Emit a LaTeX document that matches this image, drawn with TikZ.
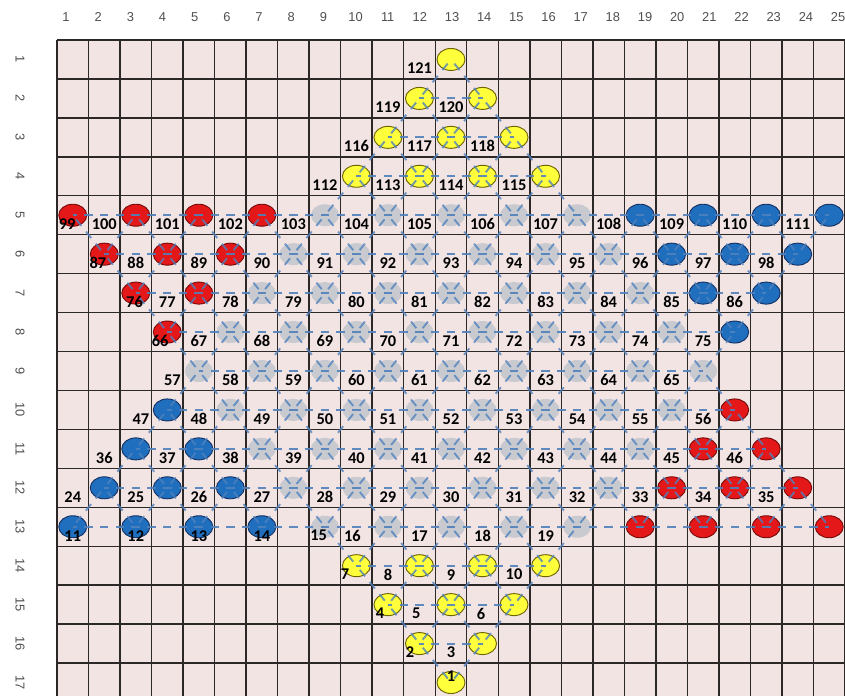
\documentclass[tikz,border=0pt]{standalone}
\usepackage{fontspec}
\setmainfont{Carlito}
\setsansfont{Liberation Sans}
\usepackage{tikz}
\usetikzlibrary{shapes.geometric}
\definecolor{cellpink}{RGB}{243,228,228}
\definecolor{gridline}{RGB}{45,40,40}
\definecolor{linkblue}{RGB}{79,129,189}
\definecolor{redfill}{RGB}{228,24,24}
\definecolor{redline}{RGB}{120,10,10}
\definecolor{bluefill}{RGB}{32,110,190}
\definecolor{blueline}{RGB}{20,50,100}
\definecolor{yellowfill}{RGB}{255,255,60}
\definecolor{yellowline}{RGB}{110,100,0}
\definecolor{grayfill}{RGB}{200,202,208}
\definecolor{axisgray}{RGB}{80,80,80}

\begin{document}
\begin{tikzpicture}[x=0.9456cm, y=-1.1682cm,
  token/.style={ellipse, minimum width=0.84cm, minimum height=0.66cm, inner sep=0pt, line width=0.8pt},
  redtok/.style={token, draw=redline, fill=redfill},
  bluetok/.style={token, draw=blueline, fill=bluefill},
  yellowtok/.style={token, draw=yellowline, fill=yellowfill},
  graytok/.style={token, fill=grayfill},
  hlink/.style={draw=linkblue, line width=1.7pt, opacity=0.9, dash pattern=on 0.25cm off 0.22cm, dash phase=0.12cm},
  dlink/.style={draw=linkblue, line width=1.6pt, opacity=0.8, dash pattern=on 0.25cm off 0.22cm, dash phase=0.31cm},
  num/.style={font=\bfseries\fontsize{14}{14}\selectfont, inner sep=0pt},
  axis/.style={font=\sffamily\fontsize{11}{11}\selectfont, text=axisgray, inner sep=0pt}
]
\useasboundingbox (-1.808,-1.027) rectangle (25,16.846);
\clip (-1.808,-1.027) rectangle (25,16.846);
\fill[white] (-1.808,-1.027) rectangle (25,16.846);

% board
\fill[cellpink] (0,0) rectangle (25,17);
\foreach \i in {0,...,25} \draw[gridline, line width=1.2pt] (\i,0) -- (\i,17);
\foreach \j in {0,...,17} \draw[gridline, line width=1.2pt] (0,\j) -- (25,\j);

% axis numbers
\foreach \col in {1,...,25}
  \node[axis] (h\col) at ({0.286+(\col-1)*1.0206},-0.59) {\col};
\foreach \row in {1,...,17}
  \node[axis, rotate=-90] (v\row) at (-1.17,\row-0.5) {\row};

% tokens
\foreach \row/\first/\last in {1/13/13,2/12/14,3/11/15,4/10/16,5/1/25,6/2/24,7/3/23,8/4/22,9/5/21,
    10/4/22,11/3/23,12/2/24,13/1/25,14/10/16,15/11/15,16/12/14,17/13/13}{
  \pgfmathtruncatemacro\nn{(\last-\first)/2}
  \pgfmathtruncatemacro\dd{abs(\row-9)}
  \foreach \kk in {0,...,\nn}{
    \pgfmathtruncatemacro\col{\first+2*\kk}
    \def\sty{graytok}
    \ifnum\row<5 \def\sty{yellowtok}\fi
    \ifnum\row>13 \def\sty{yellowtok}\fi
    \ifnum\row>4 \ifnum\row<14
      \ifnum\col<\numexpr\first+2*\dd\relax
        \ifnum\row<9 \def\sty{redtok}\else\def\sty{bluetok}\fi
      \fi
      \ifnum\col>\numexpr\last-2*\dd\relax
        \ifnum\row<9 \def\sty{bluetok}\else\def\sty{redtok}\fi
      \fi
    \fi\fi
    \node[\sty] (t-\row-\col) at (\col-0.5,\row-0.5) {};
  }
}

% links in a row
\foreach \row/\first/\last in {2/12/14,3/11/15,4/10/16,5/1/25,6/2/24,7/3/23,8/4/22,9/5/21,
    10/4/22,11/3/23,12/2/24,13/1/25,14/10/16,15/11/15,16/12/14}{
  \pgfmathtruncatemacro\nn{(\last-\first)/2}
  \foreach \kk in {1,...,\nn}{
    \pgfmathtruncatemacro\col{\first+2*\kk-2}
    \pgfmathtruncatemacro\nxt{\first+2*\kk}
    \draw[hlink] (t-\row-\col.center) -- (t-\row-\nxt.center);
  }
}

% links to the row below
\foreach \row/\first/\last/\nfirst/\nlast in {1/13/13/12/14,2/12/14/11/15,3/11/15/10/16,4/10/16/1/25,
    5/1/25/2/24,6/2/24/3/23,7/3/23/4/22,8/4/22/5/21,9/5/21/4/22,10/4/22/3/23,11/3/23/2/24,
    12/2/24/1/25,13/1/25/10/16,14/10/16/11/15,15/11/15/12/14,16/12/14/13/13}{
  \pgfmathtruncatemacro\nn{(\last-\first)/2}
  \pgfmathtruncatemacro\below{\row+1}
  \foreach \kk in {0,...,\nn}{
    \pgfmathtruncatemacro\col{\first+2*\kk}
    \pgfmathtruncatemacro\cleft{\col-1}
    \pgfmathtruncatemacro\cright{\col+1}
    \ifnum\cleft<\nfirst\else\ifnum\cleft>\nlast\else
      \draw[dlink] (t-\row-\col.center) -- (t-\below-\cleft.center);\fi\fi
    \ifnum\cright<\nfirst\else\ifnum\cright>\nlast\else
      \draw[dlink] (t-\row-\col.center) -- (t-\below-\cright.center);\fi\fi
  }
}

% numbers
\foreach \txt/\col/\row in {121/12/1, 119/11/2, 120/13/2, 116/10/3, 117/12/3, 118/14/3,
    112/9/4, 113/11/4, 114/13/4, 115/15/4,
    99/0.82/5, 100/2/5, 101/4/5, 102/6/5, 103/8/5, 104/10/5, 105/12/5, 106/14/5, 107/16/5,
    108/18/5, 109/20/5, 110/22/5, 111/24/5,
    87/1.8/6, 88/3/6, 89/5/6, 90/7/6, 91/9/6, 92/11/6, 93/13/6, 94/15/6, 95/17/6, 96/19/6, 97/21/6, 98/23/6,
    76/2.96/7, 77/4/7, 78/6/7, 79/8/7, 80/10/7, 81/12/7, 82/14/7, 83/16/7, 84/18/7, 85/20/7, 86/22/7,
    66/3.77/8, 67/5/8, 68/7/8, 69/9/8, 70/11/8, 71/13/8, 72/15/8, 73/17/8, 74/19/8, 75/21/8,
    57/4.16/9, 58/6/9, 59/8/9, 60/10/9, 61/12/9, 62/14/9, 63/16/9, 64/18/9, 65/20/9,
    47/3.16/10, 48/5/10, 49/7/10, 50/9/10, 51/11/10, 52/13/10, 53/15/10, 54/17/10, 55/19/10, 56/21/10,
    36/2/11, 37/4/11, 38/6/11, 39/8/11, 40/10/11, 41/12/11, 42/14/11, 43/16/11, 44/18/11, 45/20/11, 46/22/11,
    24/1/12, 25/3/12, 26/5/12, 27/7/12, 28/9/12, 29/11/12, 30/13/12, 31/15/12, 32/17/12, 33/19/12,
    34/21/12, 35/23/12,
    11/1/13, 12/3/13, 13/5/13, 14/7/13, 15/8.8/13, 16/9.87/13, 17/12/13, 18/14/13, 19/16/13,
    7/9.64/14, 8/11/14, 9/13/14, 10/15/14,
    4/10.75/15, 5/11.9/15, 6/13.95/15,
    2/11.7/16, 3/13/16, 1/13/16.6}
  \node[num] (l\txt) at (\col-0.5,\row-0.27) {\txt};
\end{tikzpicture}
\end{document}
